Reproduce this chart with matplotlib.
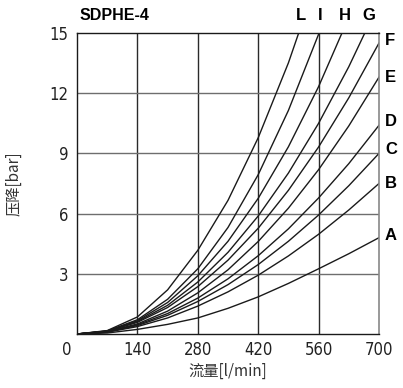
import numpy as np
import matplotlib
matplotlib.use("Agg")
import matplotlib.pyplot as plt
import matplotlib.transforms as mtransforms

plt.rcParams['font.family'] = ['DejaVu Sans']
plt.rcParams['font.stretch'] = 'condensed'

# flow [l/min]
flow = [0, 70, 140, 210, 280, 350, 420, 490, 560, 630, 700]

# pressure drop [bar] per curve (values above 15 run off the top)
curve_L = [0, 0.17, 0.85, 2.20, 4.17, 6.66, 9.78, 13.51, 17.88]
curve_I = [0, 0.15, 0.71, 1.73, 3.25, 5.31, 7.94, 11.14, 14.94, 19.36]
curve_H = [0, 0.15, 0.66, 1.57, 2.90, 4.62, 6.76, 9.33, 12.33, 15.78]
curve_G = [0, 0.14, 0.62, 1.43, 2.59, 4.07, 5.88, 8.02, 10.50, 13.32, 16.49]
curve_F = [0, 0.13, 0.58, 1.32, 2.36, 3.68, 5.27, 7.16, 9.32, 11.77, 14.5]
curve_E = [0, 0.12, 0.50, 1.14, 2.05, 3.20, 4.61, 6.27, 8.19, 10.37, 12.8]
curve_D = [0, 0.11, 0.46, 1.02, 1.79, 2.75, 3.90, 5.24, 6.78, 8.49, 10.4]
curve_C = [0, 0.10, 0.42, 0.93, 1.62, 2.46, 3.46, 4.62, 5.93, 7.39, 9.0]
curve_B = [0, 0.09, 0.37, 0.80, 1.39, 2.10, 2.93, 3.89, 4.97, 6.18, 7.5]
curve_A = [0, 0.05, 0.23, 0.48, 0.80, 1.28, 1.85, 2.52, 3.25, 4.00, 4.8]

curves = {"L": curve_L, "I": curve_I, "H": curve_H, "G": curve_G, "F": curve_F,
          "E": curve_E, "D": curve_D, "C": curve_C, "B": curve_B, "A": curve_A}
top_labels = ["L", "I", "H", "G"]
right_labels = ["F", "E", "D", "C", "B", "A"]

x_ticks = [0, 140, 280, 420, 560, 700]
y_ticks = [3, 6, 9, 12, 15]

fig = plt.figure(figsize=(4.03, 3.88), dpi=100)
ax = fig.add_axes([77/403, 1 - 334/388, 302/403, 301/388])

for xt in x_ticks[1:-1]:
    ax.axvline(xt, color="#2a2a2a", lw=1.0, zorder=1)
for yt in y_ticks[:-1]:
    ax.axhline(yt, color="#6e6e6e", lw=1.0, zorder=1)

for name, vals in curves.items():
    ax.plot(flow[:len(vals)], vals, color="#1a1a1a", lw=1.0, zorder=2)

ax.set_xlim(0, 700)
ax.set_ylim(0, 15)
ax.set_xticks(x_ticks)
ax.set_yticks(y_ticks)
ax.tick_params(length=0, labelsize=12, colors="#222222")
ax.tick_params(axis="x", pad=5)
ax.tick_params(axis="y", pad=6)
# the origin label sits a bit left of the axis in the original
ax.get_xticklabels()[0].set_transform(
    ax.get_xticklabels()[0].get_transform()
    + mtransforms.ScaledTranslation(-10/100, 0, fig.dpi_scale_trans))
for side in ["left", "bottom", "top"]:
    ax.spines[side].set_color("#1a1a1a")
    ax.spines[side].set_linewidth(1.0)
ax.spines["right"].set_color("#888888")
ax.spines["right"].set_linewidth(1.2)

ax.set_xlabel("流量[l/min]", fontsize=11, color="#333333",
              family=["Noto Sans CJK SC", "DejaVu Sans"], labelpad=3)
ax.set_ylabel("压降[bar]", fontsize=11, color="#333333",
              family=["Noto Sans CJK SC", "DejaVu Sans"], labelpad=20)

fig.text(80/403, 1 - 16/388, "SDPHE-4", fontsize=11.5, fontweight="bold",
         family=["Liberation Sans", "DejaVu Sans"], stretch="normal",
         va="center", ha="left")

# curve letters above the top edge
top_x = {"L": 519, "I": 563, "H": 621, "G": 677}
trans_top = mtransforms.blended_transform_factory(ax.transData, ax.transAxes)
for name in top_labels:
    ax.text(top_x[name], 1.058, name, transform=trans_top, ha="center", va="center",
            fontsize=12, fontweight="bold", family=["Liberation Sans", "DejaVu Sans"],
            stretch="normal")

# curve letters at the right edge
trans_right = mtransforms.blended_transform_factory(ax.transAxes, ax.transData)
right_y = {"F": 14.65, "E": 12.8, "D": 10.6, "C": 9.2, "B": 7.5, "A": 4.9}
for name in right_labels:
    ax.text(1.02, right_y[name], name, transform=trans_right, ha="left", va="center",
            fontsize=12, fontweight="bold", family=["Liberation Sans", "DejaVu Sans"],
            stretch="normal")

fig.savefig("out.png", dpi=100)
